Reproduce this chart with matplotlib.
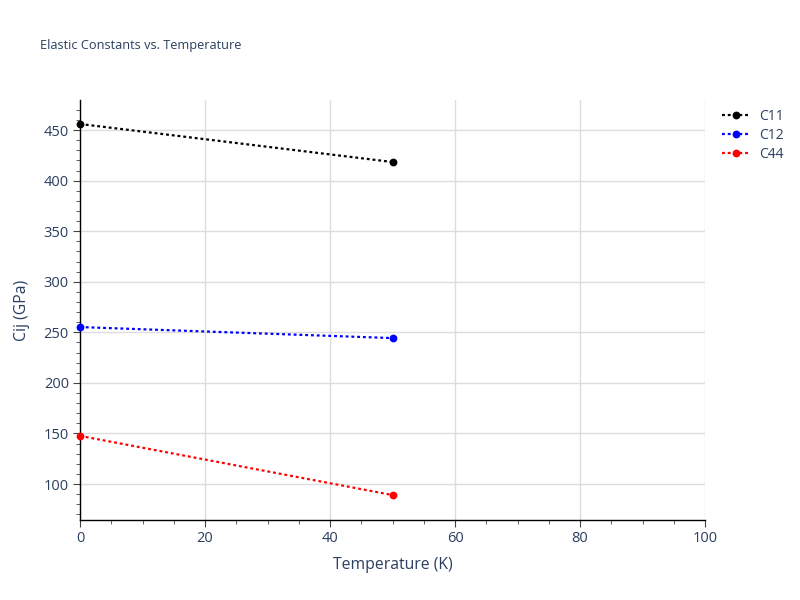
import matplotlib
matplotlib.use("Agg")
import matplotlib.pyplot as plt
from matplotlib.ticker import MultipleLocator

temperature = [0, 50]
c11 = [456.0, 418.4]
c12 = [255.2, 244.3]
c44 = [147.6, 89.1]
series_names = ["C11", "C12", "C44"]
series_colors = ["black", "blue", "red"]

plt.rcParams['font.family'] = ['Open Sans', 'DejaVu Sans']
text_color = "#2a3f5f"

fig = plt.figure(figsize=(8, 6), dpi=100)
ax = fig.add_axes([0.1, 0.1333, 0.78125, 0.7])

for vals, name, col in zip([c11, c12, c44], series_names, series_colors):
    ax.plot(temperature, vals, linestyle=(0, (1.3, 1.3)), linewidth=1.6, color=col,
            marker='o', markersize=4.6, label=name, clip_on=False, zorder=3)

ax.set_xlim(0, 100)
ax.set_ylim(64.4, 479.7)
ax.xaxis.set_major_locator(MultipleLocator(20))
ax.xaxis.set_minor_locator(MultipleLocator(5))
ax.yaxis.set_major_locator(MultipleLocator(50))
ax.yaxis.set_minor_locator(MultipleLocator(10))
ax.grid(True, which='major', color='#dddddd', linewidth=1)
ax.set_axisbelow(True)
for s in ['top', 'right']:
    ax.spines[s].set_visible(False)
for s in ['left', 'bottom']:
    ax.spines[s].set_color('black')
    ax.spines[s].set_linewidth(1)
ax.tick_params(axis='both', which='major', length=5, color='#444444', labelcolor=text_color,
               labelsize=10.5, pad=3)
ax.tick_params(axis='both', which='minor', length=3, color='#444444')

ax.set_xlabel("Temperature (K)", fontsize=11.3, color=text_color, labelpad=8)
ax.set_ylabel("Cij (GPa)", fontsize=11.3, color=text_color, labelpad=10)

fig.text(0.05, 1 - 46/600, "Elastic Constants vs. Temperature", fontsize=9.2,
         color=text_color, va='center', ha='left')

leg = ax.legend(loc='upper left', bbox_to_anchor=(0.9025, 0.8185), bbox_transform=fig.transFigure,
                frameon=False, fontsize=10, handlelength=2.0, labelspacing=0.28,
                handletextpad=0.65, borderaxespad=0, borderpad=0)
for t in leg.get_texts():
    t.set_color(text_color)

fig.savefig("out.png", dpi=100)
